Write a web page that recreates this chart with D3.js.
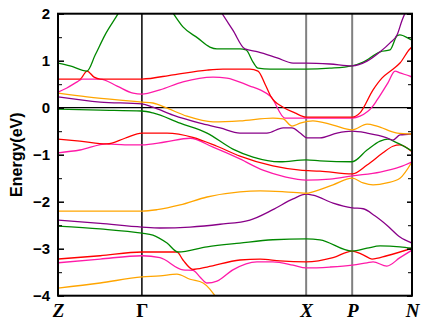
<!DOCTYPE html>
<html><head><meta charset="utf-8">
<script src="https://cdn.jsdelivr.net/npm/d3@7"></script>
<style>body{margin:0;background:#fff}</style>
</head><body>
<svg id="chart" width="436" height="327"></svg>
<script>
// High-symmetry points along the k-path (fraction of total path length)
const kLabels = ["Z", "Γ", "X", "P", "N"];
const kPositions = [0, 0.237, 0.701, 0.831, 1];
const yMajorTicks = [-4, -3, -2, -1, 0, 1, 2];
const yMinorTicks = [-3.5, -2.5, -1.5, -0.5, 0.5, 1.5];

const bandColors = ["#ffa500", "#ff1aa8", "#ff0000", "#008800", "#880088"];

// Bands: [k, E(eV)] pairs, ordered by band index (energy-sorted)
const band0 = [[0,-3.84],[0.119,-3.73],[0.237,-3.60],[0.288,-3.58],[0.336,-3.54],[0.373,-3.65],[0.410,-3.73],[0.429,-3.86],[0.444,-4.01],[0.472,-4.30]];
const band1 = [[0,-3.30],[0.119,-3.22],[0.237,-3.15],[0.288,-3.19],[0.353,-3.45],[0.381,-3.46],[0.401,-3.60],[0.421,-3.73],[0.449,-3.69],[0.494,-3.45],[0.562,-3.28],[0.607,-3.28],[0.664,-3.35],[0.701,-3.41],[0.768,-3.39],[0.831,-3.35],[0.873,-3.30],[0.890,-3.28],[0.929,-3.37],[0.966,-3.19],[1,-3.03]];
const band2 = [[0,-3.22],[0.119,-3.15],[0.237,-3.07],[0.288,-3.07],[0.336,-3.07],[0.353,-3.24],[0.381,-3.44],[0.421,-3.39],[0.514,-3.24],[0.571,-3.22],[0.627,-3.26],[0.701,-3.28],[0.777,-3.19],[0.831,-3.05],[0.862,-3.13],[0.887,-3.22],[0.929,-3.15],[1,-2.99]];
const band3 = [[0,-2.52],[0.119,-2.58],[0.237,-2.67],[0.268,-2.71],[0.308,-2.88],[0.339,-3.07],[0.421,-2.96],[0.514,-2.88],[0.607,-2.81],[0.701,-2.79],[0.740,-2.81],[0.831,-3.05],[0.873,-2.99],[0.910,-2.94],[0.966,-2.96],[1,-2.99]];
const band4 = [[0,-2.39],[0.119,-2.46],[0.237,-2.54],[0.288,-2.56],[0.373,-2.54],[0.458,-2.48],[0.542,-2.39],[0.607,-2.17],[0.664,-1.94],[0.701,-1.84],[0.720,-1.86],[0.777,-2.03],[0.831,-2.13],[0.862,-2.15],[0.895,-2.30],[0.929,-2.50],[0.966,-2.75],[1,-2.88]];
const band5 = [[0,-2.20],[0.119,-2.20],[0.237,-2.20],[0.280,-2.17],[0.345,-2.07],[0.421,-1.90],[0.514,-1.79],[0.571,-1.77],[0.641,-1.79],[0.701,-1.82],[0.720,-1.79],[0.777,-1.64],[0.831,-1.50],[0.862,-1.60],[0.890,-1.64],[0.929,-1.60],[0.966,-1.50],[1,-1.15]];
const band6 = [[0,-0.96],[0.062,-0.90],[0.138,-0.77],[0.189,-0.79],[0.237,-0.79],[0.302,-0.73],[0.373,-0.65],[0.438,-0.84],[0.514,-1.09],[0.579,-1.33],[0.641,-1.47],[0.701,-1.54],[0.768,-1.52],[0.831,-1.45],[0.910,-1.37],[0.966,-1.26],[1,-1.15]];
const band7 = [[0,-0.67],[0.062,-0.71],[0.138,-0.77],[0.189,-0.65],[0.237,-0.54],[0.308,-0.54],[0.381,-0.63],[0.449,-0.82],[0.514,-1.03],[0.607,-1.24],[0.684,-1.33],[0.740,-1.35],[0.831,-1.41],[0.873,-1.22],[0.918,-0.96],[0.946,-0.82],[0.966,-0.79],[1,-0.94]];
const band8 = [[0,-0.03],[0.119,-0.05],[0.237,-0.07],[0.268,-0.11],[0.345,-0.33],[0.421,-0.54],[0.494,-0.88],[0.551,-1.05],[0.627,-1.15],[0.701,-1.11],[0.740,-1.13],[0.831,-1.15],[0.873,-0.90],[0.910,-0.71],[0.932,-0.67],[0.958,-0.75],[1,-0.92]];
const band9 = [[0,0.23],[0.119,0.12],[0.237,0.08],[0.268,0.01],[0.325,-0.16],[0.401,-0.33],[0.458,-0.43],[0.514,-0.54],[0.590,-0.54],[0.636,-0.43],[0.661,-0.43],[0.684,-0.54],[0.703,-0.64],[0.740,-0.64],[0.788,-0.54],[0.831,-0.50],[0.873,-0.54],[0.929,-0.64],[0.946,-0.69],[0.966,-0.58],[1,-0.56]];
const band10 = [[0,0.31],[0.082,0.23],[0.175,0.16],[0.237,0.12],[0.268,0.10],[0.308,-0.01],[0.364,-0.18],[0.438,-0.30],[0.514,-0.28],[0.607,-0.22],[0.636,-0.24],[0.661,-0.39],[0.684,-0.33],[0.720,-0.28],[0.777,-0.37],[0.831,-0.47],[0.873,-0.35],[0.901,-0.39],[0.958,-0.54],[1,-0.56]];
const band11 = [[0,0.33],[0.025,0.42],[0.054,0.55],[0.068,0.61],[0.119,0.61],[0.167,0.46],[0.212,0.31],[0.237,0.29],[0.288,0.38],[0.353,0.55],[0.438,0.65],[0.477,0.63],[0.542,0.46],[0.571,0.38],[0.602,0.23],[0.641,-0.22],[0.701,-0.22],[0.831,-0.22],[0.853,-0.18],[0.890,0.04],[0.901,0.16],[0.932,0.53],[0.952,0.78],[0.966,0.74],[0.994,0.67],[1,0.65]];
const band12 = [[0,0.61],[0.062,0.61],[0.082,0.78],[0.102,0.65],[0.119,0.61],[0.237,0.61],[0.325,0.70],[0.421,0.80],[0.466,0.82],[0.542,0.82],[0.565,0.78],[0.585,0.50],[0.602,0.23],[0.636,0.01],[0.669,-0.11],[0.701,-0.20],[0.831,-0.20],[0.853,-0.11],[0.890,0.38],[0.915,0.63],[0.946,0.82],[0.966,0.95],[0.994,1.25],[1,1.29]];
const band13 = [[0,0.95],[0.034,0.89],[0.082,0.78],[0.105,1.12],[0.133,1.55],[0.169,1.99],[0.189,2.25],[0.246,2.61],[0.302,2.25],[0.325,2.01],[0.353,1.72],[0.395,1.48],[0.429,1.29],[0.449,1.25],[0.514,1.25],[0.531,1.23],[0.551,0.97],[0.565,0.84],[0.599,0.82],[0.701,0.82],[0.768,0.84],[0.831,0.89],[0.862,0.97],[0.910,1.19],[0.938,1.23],[0.958,1.53],[0.966,1.55],[0.994,1.46],[1,1.44]];
const band14 = [[0.415,2.61],[0.463,2.01],[0.494,1.65],[0.528,1.25],[0.565,1.19],[0.619,1.06],[0.664,0.95],[0.701,0.95],[0.768,0.93],[0.831,0.89],[0.873,0.99],[0.910,1.19],[0.938,1.38],[0.958,1.55],[0.972,1.86],[0.980,2.01],[0.994,2.40]];

const bands = [band0, band1, band2, band3, band4, band5, band6, band7, band8, band9, band10, band11, band12, band13, band14];

const svg = d3.select("#chart");
const L = 58, R = 412, T = 13.7, B = 295.7;
const x = d3.scaleLinear().domain([0, 1]).range([L, R]);
const y = d3.scaleLinear().domain([-4, 2]).range([B, T]);

svg.append("defs").append("clipPath").attr("id", "clip")
  .append("rect").attr("x", L).attr("y", T).attr("width", R - L).attr("height", B - T);

// vertical high-symmetry lines
svg.append("g").selectAll("line").data(kPositions.slice(1, 4)).join("line")
  .attr("x1", d => x(d)).attr("x2", d => x(d)).attr("y1", T).attr("y2", B)
  .attr("stroke", (d, i) => i === 0 ? "#000" : "#808080")
  .attr("stroke-width", (d, i) => i === 0 ? 1.5 : 2);

// zero line
svg.append("line").attr("x1", L).attr("x2", R).attr("y1", y(0)).attr("y2", y(0))
  .attr("stroke", "#000").attr("stroke-width", 1.3);

const line = d3.line().x(d => x(d[0])).y(d => y(d[1])).curve(d3.curveMonotoneX);
svg.append("g").attr("clip-path", "url(#clip)")
  .selectAll("path").data(bands).join("path")
  .attr("d", line).attr("fill", "none")
  .attr("stroke", (d, i) => bandColors[i % 5]).attr("stroke-width", 1.3);

// left axis
const fontSans = "'Liberation Sans', Arial, Helvetica, sans-serif";
const gl = svg.append("g").attr("transform", `translate(${L},0)`)
  .call(d3.axisLeft(y).tickValues(yMajorTicks).tickSize(-6).tickPadding(8).tickFormat(d3.format("d")));
gl.select(".domain").remove();
gl.selectAll(".tick line").attr("stroke-width", 1.5);
gl.selectAll("text").attr("font-family", fontSans).attr("font-weight", "bold").attr("font-size", 15).attr("fill", "#000");
const glm = svg.append("g").attr("transform", `translate(${L},0)`)
  .call(d3.axisLeft(y).tickValues(yMinorTicks).tickSize(-4).tickFormat(""));
glm.select(".domain").remove();

// right axis
const gr = svg.append("g").attr("transform", `translate(${R},0)`)
  .call(d3.axisRight(y).tickValues(yMajorTicks).tickSize(-5).tickFormat(""));
gr.select(".domain").remove();
gr.selectAll(".tick line").attr("stroke-width", 1.5);
const grm = svg.append("g").attr("transform", `translate(${R},0)`)
  .call(d3.axisRight(y).tickValues(yMinorTicks).tickSize(-4).tickFormat(""));
grm.select(".domain").remove();

// bottom labels
const gb = svg.append("g").attr("transform", `translate(0,${B})`)
  .call(d3.axisBottom(x).tickValues(kPositions).tickSize(0).tickPadding(8).tickFormat((d, i) => kLabels[i]));
gb.select(".domain").remove();
gb.selectAll("text")
  .attr("font-family", "'Liberation Serif', 'Times New Roman', serif")
  .attr("font-weight", "bold").attr("font-size", 19).attr("fill", "#000")
  .attr("font-style", (d, i) => kLabels[i] === "Γ" ? "normal" : "italic");

// frame
svg.append("rect").attr("x", L).attr("y", T).attr("width", R - L).attr("height", B - T)
  .attr("fill", "none").attr("stroke", "#000").attr("stroke-width", 2);

// y label
svg.append("text").attr("transform", `translate(22,${(T + B) / 2}) rotate(-90)`)
  .attr("text-anchor", "middle").attr("font-family", fontSans).attr("font-weight", "bold")
  .attr("font-size", 16).text("Energy(eV)");
</script>
</body></html>
